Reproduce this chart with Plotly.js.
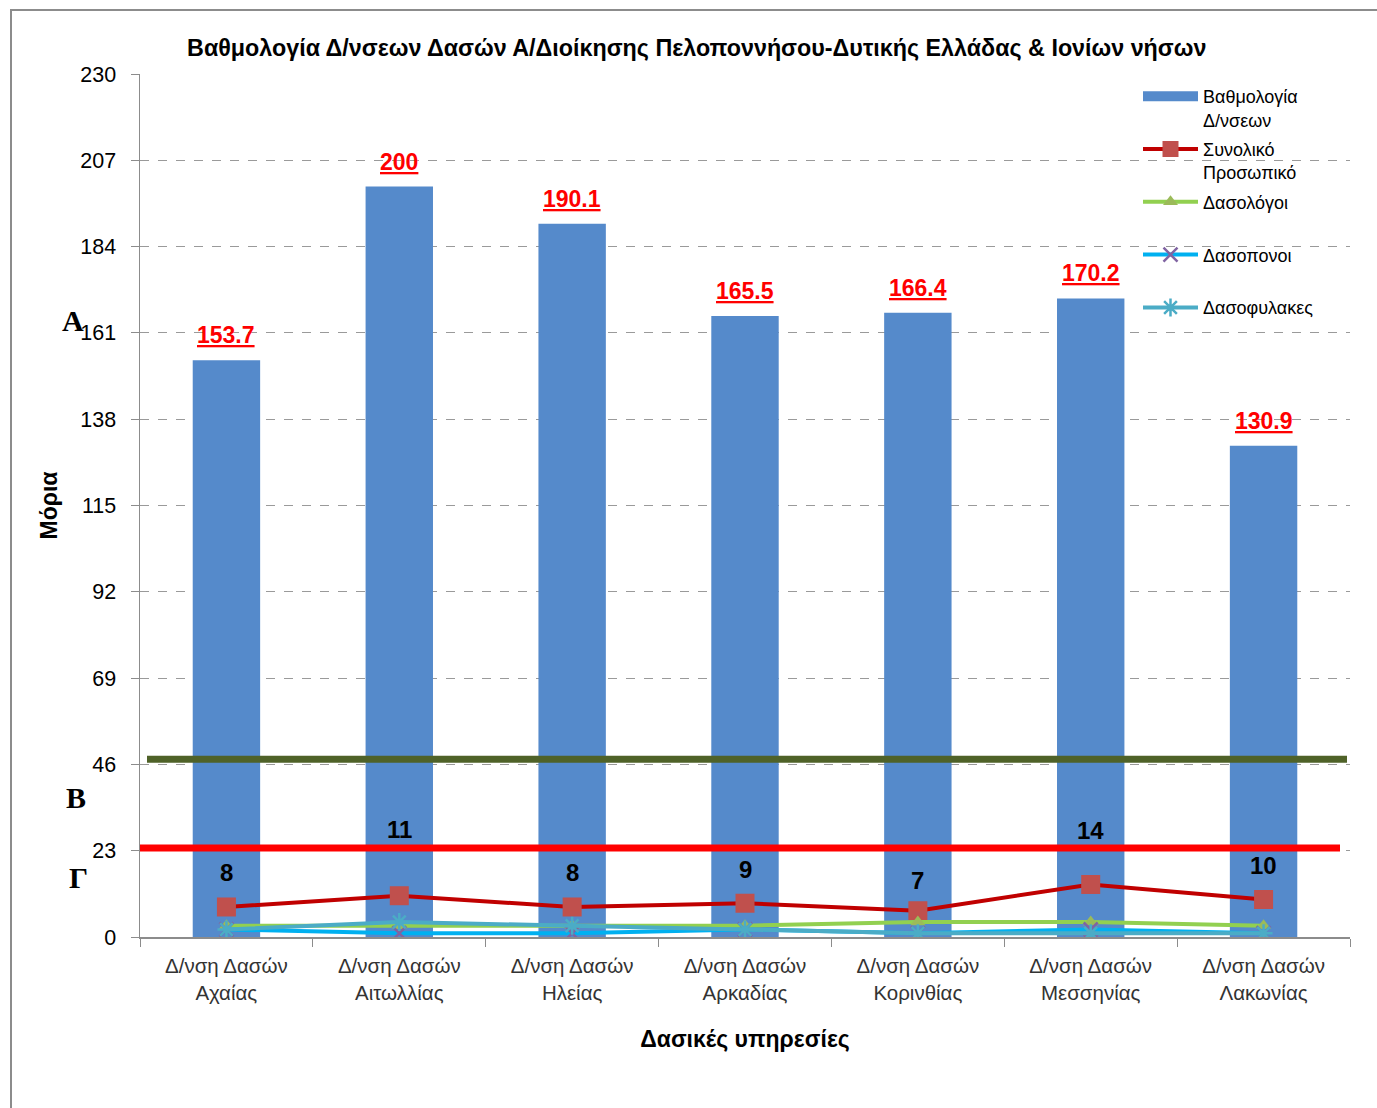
<!DOCTYPE html>
<html>
<head>
<meta charset="utf-8">
<script src="https://cdn.plot.ly/plotly-3.0.1.min.js"></script>
<style>
  html, body { margin: 0; padding: 0; background: #fff; overflow: hidden; }
  #chart { position: absolute; left: 0; top: 0; width: 1377px; height: 1108px; }
  #frame { position: absolute; left: 10px; top: 9px; width: 1400px; height: 1200px;
           border-left: 2px solid #8c8c8c; border-top: 2px solid #8c8c8c; pointer-events: none; }
</style>
</head>
<body>
<div id="chart"></div>
<div id="frame"></div>
<script>
// ---- data ----
const categories = [
  "Δ/νση Δασών<br>Αχαίας",
  "Δ/νση Δασών<br>Αιτωλλίας",
  "Δ/νση Δασών<br>Ηλείας",
  "Δ/νση Δασών<br>Αρκαδίας",
  "Δ/νση Δασών<br>Κορινθίας",
  "Δ/νση Δασών<br>Μεσσηνίας",
  "Δ/νση Δασών<br>Λακωνίας"
];
const scores = [153.7, 200, 190.1, 165.5, 166.4, 170.2, 130.9];
const totalStaff = [8, 11, 8, 9, 7, 14, 10];
const foresters = [3, 3, 3, 3, 4, 4, 3];
const forestWorkers = [2, 1, 1, 2, 1, 2, 1];
const forestGuards = [2, 4, 3, 2, 1, 1, 1];
const yTicks = [0, 23, 46, 69, 92, 115, 138, 161, 184, 207, 230];
const thresholdB = 47.4;
const thresholdC = 23.7;
const zoneLabels = ["Α", "Β", "Γ"];

// ---- styles ----
const sans = "'Liberation Sans', Arial, sans-serif";
const totalLabelShift = [34, 66, 34, 34, 30, 54, 34];
const barBlue = "#558ACB";

const traces = [
  {
    type: "bar", x: categories, y: scores, name: "Βαθμολογία<br>Δ/νσεων",
    marker: { color: barBlue }, width: 0.39, showlegend: false,
    hoverinfo: "skip"
  },
  { // legend entry for the bars (wide rectangle symbol, as in the original)
    type: "scatter", mode: "lines", x: [null], y: [null],
    name: "Βαθμολογία<br>Δ/νσεων", legendgroup: "g1",
    line: { color: barBlue, width: 11 }
  },
  {
    type: "scatter", mode: "lines+markers", x: categories, y: totalStaff,
    name: "Συνολικό<br>Προσωπικό", legendgroup: "g2",
    line: { color: "#C00000", width: 4 },
    marker: { symbol: "square", size: 19, color: "#C0504D" }
  },
  {
    type: "scatter", mode: "lines+markers", x: categories, y: foresters,
    name: "Δασολόγοι<br> ", legendgroup: "g3",
    line: { color: "#92D050", width: 4 },
    marker: { symbol: "triangle-up", size: 13, color: "#9BBB59" }
  },
  {
    type: "scatter", mode: "lines+markers", x: categories, y: forestWorkers,
    name: "Δασοπονοι<br> ", legendgroup: "g4",
    line: { color: "#00B0F0", width: 4 },
    marker: { symbol: "x-thin-open", size: 14, color: "#8064A2", line: { width: 2.5, color: "#8064A2" } }
  },
  {
    type: "scatter", mode: "lines+markers", x: categories, y: forestGuards,
    name: "Δασοφυλακες<br> ", legendgroup: "g5",
    line: { color: "#4BACC6", width: 4 },
    marker: { symbol: "asterisk-open", size: 15, color: "#4BACC6", line: { width: 2.5, color: "#4BACC6" } }
  }
];

const annotations = [];
scores.forEach((v, i) => {
  annotations.push({
    x: categories[i], y: v, xref: "x", yref: "y", text: "<b><u>" + v + "</u></b>",
    showarrow: false, yanchor: "middle", yshift: 25,
    font: { family: sans, size: 23, color: "#FF0000" }
  });
});
totalStaff.forEach((v, i) => {
  annotations.push({
    x: categories[i], y: v, xref: "x", yref: "y", text: "<b>" + v + "</b>",
    showarrow: false, yanchor: "middle", yshift: totalLabelShift[i],
    font: { family: sans, size: 24, color: "#000" }
  });
});

const serif = "'Liberation Serif', 'Times New Roman', serif";
const zonePx = [[73, 320], [76, 797], [78, 877]];
zoneLabels.forEach((t, i) => {
  annotations.push({
    x: (zonePx[i][0] - 140) / 1210, y: (937 - zonePx[i][1]) / 863, xref: "paper", yref: "paper",
    xanchor: "center", yanchor: "middle", showarrow: false,
    text: "<b>" + t + "</b>", font: { family: serif, size: 30, color: "#000" }
  });
});

const layout = {
  width: 1377, height: 1108,
  margin: { l: 140, r: 27, t: 74, b: 171 },
  paper_bgcolor: "#fff", plot_bgcolor: "#fff",
  showlegend: true,
  title: {
    text: "<b>Βαθμολογία Δ/νσεων Δασών Α/Διοίκησης Πελοποννήσου-Δυτικής Ελλάδας & Ιονίων νήσων</b>",
    font: { family: sans, size: 23.3, color: "#000" },
    x: 0.506, xanchor: "center", y: 0.957, yanchor: "middle"
  },
  xaxis: {
    type: "category",
    showline: true, linecolor: "#8c8c8c", linewidth: 1.5,
    ticks: "outside", ticklen: 8, tickcolor: "#8c8c8c", tickson: "boundaries",
    showgrid: false, ticklabelstandoff: 10,
    tickfont: { family: sans, size: 20.5, color: "#333" },
    title: { text: "<b>Δασικές υπηρεσίες</b>", font: { family: sans, size: 23, color: "#000" }, standoff: 28 }
  },
  yaxis: {
    range: [0, 230], tickvals: yTicks, ticktext: yTicks.map(String),
    showline: true, linecolor: "#8c8c8c", linewidth: 1.5,
    ticks: "outside", ticklen: 8, tickcolor: "#8c8c8c",
    showgrid: true, gridcolor: "#9a9a9a", griddash: "dash", gridwidth: 1,
    zeroline: false, ticklabelstandoff: 10,
    tickfont: { family: sans, size: 21.5, color: "#000" },
    title: { text: "<b>Μόρια</b>", font: { family: sans, size: 23, color: "#000" }, standoff: 16 }
  },
  legend: {
    x: 998 / 1210, xanchor: "left", y: 1 - (78 - 74) / 863, yanchor: "top",
    font: { family: sans, size: 18, color: "#000" },
    valign: "top", itemwidth: 55, tracegroupgap: 3,
    bgcolor: "rgba(0,0,0,0)"
  },
  shapes: [
    { type: "line", xref: "paper", yref: "y", x0: 7 / 1210, x1: 1207 / 1210, y0: thresholdB, y1: thresholdB,
      line: { color: "#4F6228", width: 7 } },
    { type: "line", xref: "paper", yref: "y", x0: 0, x1: 1200 / 1210, y0: thresholdC, y1: thresholdC,
      line: { color: "#FF0000", width: 7 } }
  ],
  annotations: annotations
};

Plotly.newPlot("chart", traces, layout, { displayModeBar: false, staticPlot: true });
</script>
</body>
</html>
